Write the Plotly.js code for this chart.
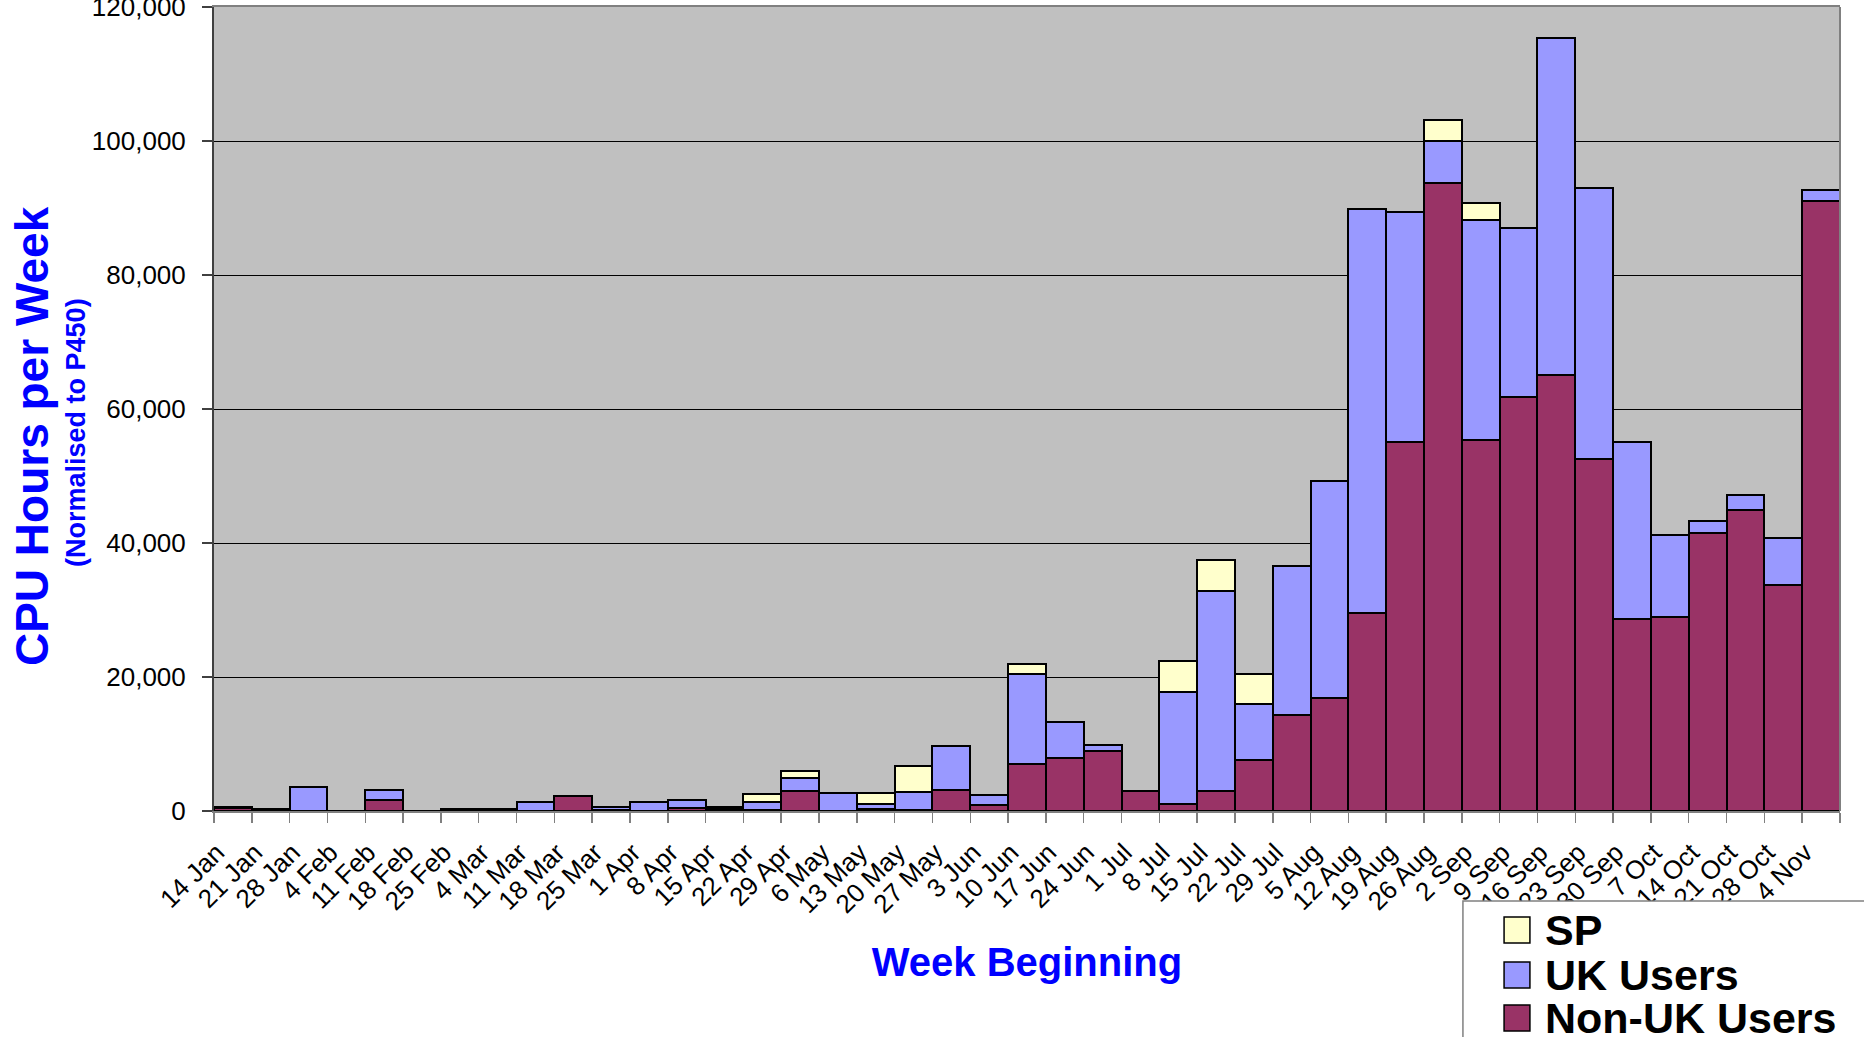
<!DOCTYPE html>
<html>
<head>
<meta charset="utf-8">
<script src="https://cdn.plot.ly/plotly-3.0.1.min.js"></script>
<style>
  html, body { margin: 0; padding: 0; background: #ffffff; }
  #chart { width: 1864px; height: 1037px; }
</style>
</head>
<body>
<div id="chart"></div>
<script>
const weeks = ["14 Jan","21 Jan","28 Jan","4 Feb","11 Feb","18 Feb","25 Feb","4 Mar","11 Mar","18 Mar","25 Mar",
  "1 Apr","8 Apr","15 Apr","22 Apr","29 Apr","6 May","13 May","20 May","27 May","3 Jun","10 Jun","17 Jun","24 Jun",
  "1 Jul","8 Jul","15 Jul","22 Jul","29 Jul","5 Aug","12 Aug","19 Aug","26 Aug","2 Sep","9 Sep","16 Sep","23 Sep",
  "30 Sep","7 Oct","14 Oct","21 Oct","28 Oct","4 Nov"];

const nonUK = [500,100,0,0,1700,0,100,100,50,2300,100,
  0,450,300,100,3000,0,250,150,3200,900,7000,7850,9000,
  3050,1100,3000,7550,14300,16800,29500,55050,93800,55400,61850,65100,52500,
  28650,28900,41550,44950,33750,91050];

const ukUsers = [100,150,3600,0,1400,0,200,150,1350,0,500,
  1400,1250,300,1200,2000,2750,750,2750,6500,1500,13500,5400,800,
  0,16600,29900,8450,22200,32400,60350,34300,6150,32800,25150,50250,40450,
  26400,12350,1700,2150,7000,1650];

const sp = [0,0,0,0,0,0,0,0,0,0,0,
  0,0,0,1200,900,0,1650,3800,0,0,1400,0,0,
  0,4700,4500,4500,0,0,0,0,3200,2550,0,0,0,
  0,0,0,0,0,0];

const seriesNames = ["Non-UK Users", "UK Users", "SP"];
const seriesColors = ["#993366", "#9999FF", "#FFFFCC"];

const yTitle = "CPU Hours per Week";
const ySubTitle = "(Normalised to P450)";
const xTitle = "Week Beginning";

const FONT = "Liberation Sans, Arial, Helvetica, sans-serif";
const BLUE = "#0000FF";

function barTrace(name, values, color) {
  return {
    type: "bar",
    name: name,
    x: weeks,
    y: values,
    marker: { color: color, line: { color: "#000000", width: 2 } },
    hoverinfo: "x+y+name"
  };
}

const traces = [
  barTrace(seriesNames[0], nonUK, seriesColors[0]),
  barTrace(seriesNames[1], ukUsers, seriesColors[1]),
  barTrace(seriesNames[2], sp, seriesColors[2])
];

// legend drawn as paper-referenced shapes + text (box runs off the page like the reference)
const legendOrder = [2, 1, 0];
const swY = [[-0.1318, -0.1642], [-0.1878, -0.2201], [-0.2413, -0.2736]];
const txtY = [-0.1480, -0.2040, -0.2575];

const shapes = [
  { type: "line", xref: "paper", yref: "paper", x0: 1, x1: 1, y0: 0, y1: 1,
    line: { color: "#808080", width: 2 } },
  { type: "rect", xref: "paper", yref: "paper", x0: 0.7681, x1: 1.06, y0: -0.1119, y1: -0.40,
    fillcolor: "#FFFFFF", line: { color: "#808080", width: 1.5 }, layer: "above" }
];
const annotations = [
  { text: "<b>" + yTitle + "</b>", xref: "paper", yref: "paper", x: -0.1119, y: 0.4664,
    textangle: -90, showarrow: false, xanchor: "center", yanchor: "middle",
    font: { family: FONT, size: 46, color: BLUE } },
  { text: "<b>" + ySubTitle + "</b>", xref: "paper", yref: "paper", x: -0.0849, y: 0.4714,
    textangle: -90, showarrow: false, xanchor: "center", yanchor: "middle",
    font: { family: FONT, size: 27, color: BLUE } }
];
legendOrder.forEach((si, k) => {
  shapes.push({ type: "rect", xref: "paper", yref: "paper", x0: 0.7934, x1: 0.8093,
    y0: swY[k][0], y1: swY[k][1], fillcolor: seriesColors[si],
    line: { color: "#000000", width: 1.5 }, layer: "above" });
  annotations.push({ text: "<b>" + seriesNames[si] + "</b>", xref: "paper", yref: "paper",
    x: 0.8173, y: txtY[k], xanchor: "left", yanchor: "middle", showarrow: false,
    font: { family: FONT, size: 43, color: "#000000" } });
});

const layout = {
  width: 1864, height: 1037,
  margin: { l: 214, r: 24, t: 7, b: 226, pad: 0 },
  paper_bgcolor: "#FFFFFF",
  plot_bgcolor: "#C0C0C0",
  barmode: "stack",
  bargap: 0,
  showlegend: false,
  font: { family: FONT, color: "#000000" },
  xaxis: {
    type: "category",
    tickangle: -45,
    tickson: "boundaries",
    ticks: "outside", ticklen: 10, tickwidth: 1.5, tickcolor: "#808080",
    ticklabelstandoff: 14, ticklabelshift: -16,
    showline: true, linecolor: "#808080", linewidth: 2, mirror: true,
    showgrid: false, zeroline: false,
    tickfont: { family: FONT, size: 26, color: "#000000" },
    title: { text: xTitle, standoff: 30,
      font: { family: FONT, size: 40, color: BLUE, weight: "bold" } },
    automargin: false
  },
  yaxis: {
    range: [0, 120000], dtick: 20000, tick0: 0,
    tickformat: ",d",
    ticks: "outside", ticklen: 10, tickwidth: 1.5, tickcolor: "#404040",
    ticklabelstandoff: 11, ticklabeloverflow: "allow",
    showline: true, linecolor: "#404040", linewidth: 2,
    showgrid: true, gridcolor: "#000000", gridwidth: 1,
    zeroline: false,
    tickfont: { family: FONT, size: 26, color: "#000000" },
    automargin: false
  },
  shapes: shapes,
  annotations: annotations
};

Plotly.newPlot("chart", traces, layout, { displayModeBar: false, staticPlot: true });
</script>
</body>
</html>
